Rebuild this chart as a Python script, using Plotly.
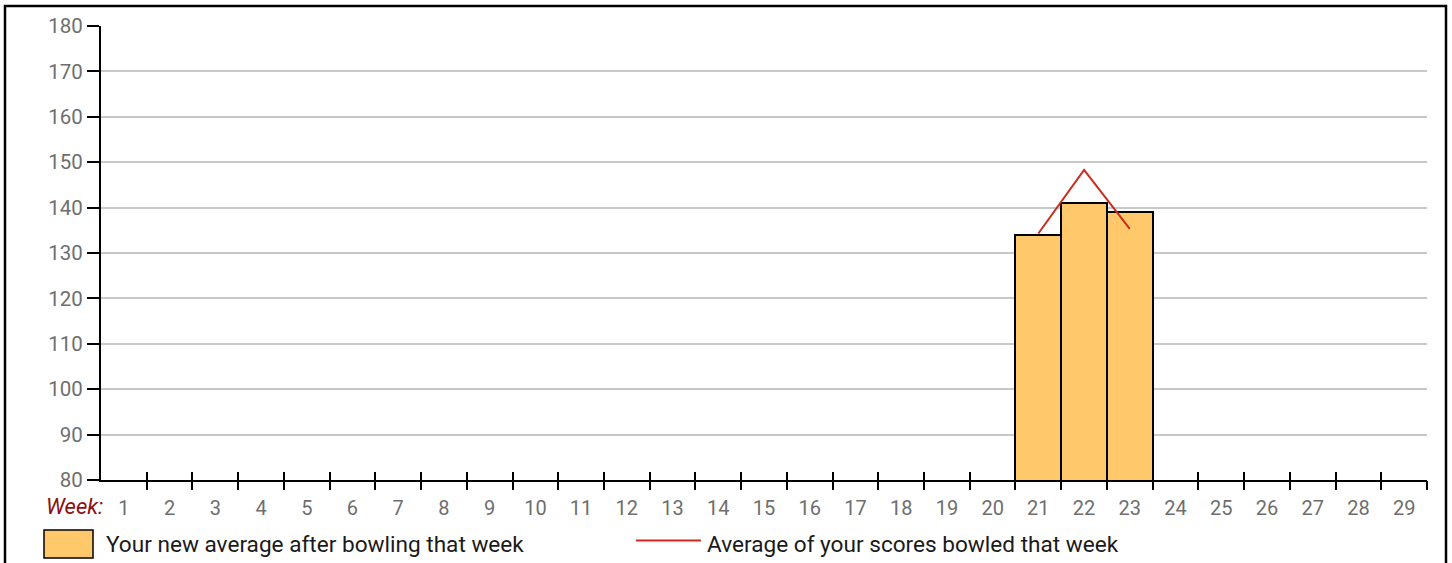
import plotly.graph_objects as go

# ---- data ----
weeks = list(range(1, 30))
week_labels = [str(w) for w in weeks]
new_average = [None] * 20 + [134, 141, 139] + [None] * 6
week_score_avg = [None] * 20 + [134.3, 148.3, 135.3] + [None] * 6
y_ticks = list(range(80, 181, 10))
bar_name = "Your new average after bowling that week"
line_name = "Average of your scores bowled that week"

W, H = 1452, 563
ML, MR, MT, MB = 101, 25, 26, 83
PW, PH = W - ML - MR, H - MT - MB


def px(x):
    return (x - ML) / PW


def py(y):
    return 1 - (y - MT) / PH


BAR_FILL = "#FFC86A"
LINE_RED = "#CC2A1E"
FONT = "Roboto"
FS = 20
LFS = 22.6
TICK_GRAY = "#6E6E6E"

fig = go.Figure()
fig.add_trace(go.Bar(
    x=weeks, y=new_average, name=bar_name, width=1.0,
    marker=dict(color=BAR_FILL, line=dict(color="black", width=2)),
    showlegend=False,
))
fig.add_trace(go.Scatter(
    x=weeks, y=week_score_avg, name=line_name, mode="lines",
    line=dict(color=LINE_RED, width=2), showlegend=False,
))
# invisible helpers for tick axes
boundaries = [w + 0.5 for w in weeks]
fig.add_trace(go.Scatter(x=boundaries, y=[None] * len(boundaries), xaxis="x2",
                         showlegend=False, hoverinfo="skip", mode="lines"))
fig.add_trace(go.Scatter(x=boundaries, y=[None] * len(boundaries), xaxis="x3",
                         showlegend=False, hoverinfo="skip", mode="lines"))

xrange = [0.5, 29.5]
fig.update_layout(
    width=W, height=H,
    margin=dict(l=ML, r=MR, t=MT, b=MB, pad=0),
    paper_bgcolor="white", plot_bgcolor="white",
    font=dict(family=FONT, size=FS, color=TICK_GRAY),
    bargap=0,
    xaxis=dict(range=xrange, tickmode="array", tickvals=weeks, ticktext=week_labels,
               ticks="", showgrid=False, zeroline=False, showline=True,
               linecolor="black", linewidth=2, ticklabelstandoff=9,
               tickfont=dict(family=FONT, size=FS, color=TICK_GRAY), fixedrange=True),
    xaxis2=dict(range=xrange, overlaying="x", anchor="y", side="bottom",
                tickmode="array", tickvals=boundaries, ticks="outside", ticklen=9,
                tickwidth=2, tickcolor="black", showticklabels=False, showgrid=False,
                zeroline=False, showline=False),
    xaxis3=dict(range=xrange, overlaying="x", anchor="y", side="bottom",
                tickmode="array", tickvals=boundaries, ticks="inside", ticklen=8,
                tickwidth=2, tickcolor="black", showticklabels=False, showgrid=False,
                zeroline=False, showline=False),
    yaxis=dict(range=[80, 180], tickmode="array", tickvals=y_ticks,
               showgrid=True, gridcolor="#C8C8C8", gridwidth=2, zeroline=False,
               showline=True, linecolor="black", linewidth=2,
               ticks="outside", ticklen=12, tickwidth=2, tickcolor="black",
               tickfont=dict(family=FONT, size=FS + 0.5, color=TICK_GRAY), fixedrange=True),
)

# outer frame
fig.add_shape(type="rect", xref="paper", yref="paper",
              x0=px(5), x1=px(1446), y0=py(575), y1=py(6),
              line=dict(color="black", width=2.5), fillcolor="rgba(0,0,0,0)", layer="above")

# "Week:" label
fig.add_annotation(xref="paper", yref="paper", x=px(105), y=py(507), xanchor="right",
                   yanchor="middle", text="<i>Week:</i>", showarrow=False,
                   font=dict(family=FONT, size=22, color="#8B1212"))

# legend (manual)
fig.add_shape(type="rect", xref="paper", yref="paper",
              x0=px(44), x1=px(93), y0=py(558), y1=py(530),
              line=dict(color="black", width=1.5), fillcolor=BAR_FILL)
fig.add_annotation(xref="paper", yref="paper", x=px(104), y=py(544), xanchor="left",
                   yanchor="middle", text=bar_name, showarrow=False,
                   font=dict(family=FONT, size=LFS, color="#1A1A1A"))
fig.add_shape(type="line", xref="paper", yref="paper",
              x0=px(636), x1=px(701), y0=py(540.5), y1=py(540.5),
              line=dict(color=LINE_RED, width=2))
fig.add_annotation(xref="paper", yref="paper", x=px(705), y=py(544), xanchor="left",
                   yanchor="middle", text=line_name, showarrow=False,
                   font=dict(family=FONT, size=LFS, color="#1A1A1A"))

fig.write_html("out.html", config={"displayModeBar": False},
               post_script="document.body.style.margin='0';")
